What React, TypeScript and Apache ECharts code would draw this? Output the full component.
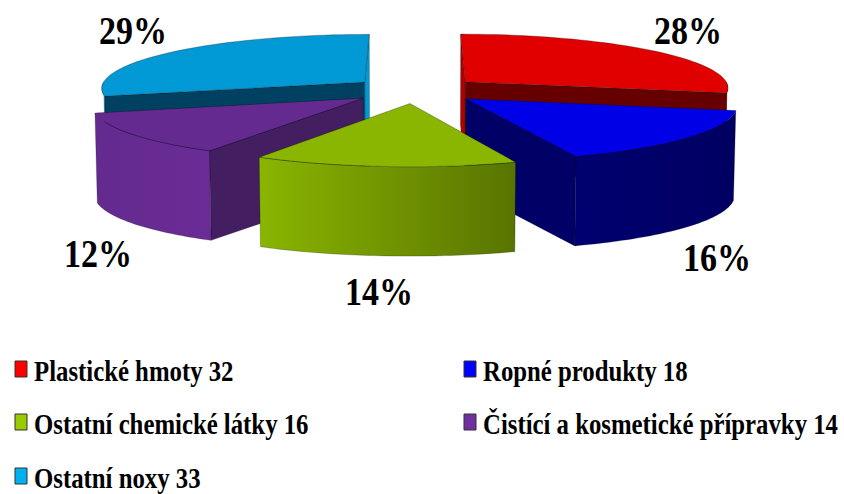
import React, { useEffect, useRef } from "react";
import * as echarts from "echarts";

const names = ["Plastické hmoty", "Ropné produkty", "Ostatní chemické látky", "Čistící a kosmetické přípravky", "Ostatní noxy"];
const values = [32, 18, 16, 14, 33];

const topColors = ["#E10000", "#0000E6", "#8AB500", "#642A8F", "#0099D6"];
const wallColors = ["#660000", "#000066", "#5F7D00", "#431E60", "#004060"];
const outerFrom = ["#B00000", "#000070", "#8AB500", "#642A8F", "#0099D6"];
const outerTo = ["#B00000", "#000062", "#587400", "#6A2C96", "#0099D6"];
const legendColors = ["#FF0000", "#0000FF", "#99CC00", "#7030A0", "#00B0F0"];

const legendX = [15, 464, 15, 464, 15];
const legendY = [369, 369, 422, 422, 476];
const labelX = [688, 717, 379, 98, 133];
const labelY = [31, 258, 292, 254, 31];

const CX = 415.5, CY = 90, RX = 265, RY = 54, PERSP = 0.1, SHRINK = 0.007, DEPTH = 90, EXPLODE = 0.245;
const total = values.reduce((a, b) => a + b, 0);

function project(x: number, y: number, z: number): [number, number] {
  const w = 1 - PERSP * y + SHRINK * z;
  return [CX + (RX * x) / w, CY + (RY * y) / w + DEPTH * z];
}

function renderSlice(params: any) {
  const i = params.dataIndex;
  const before = values.slice(0, i).reduce((a, b) => a + b, 0);
  const a0 = (before / total) * Math.PI * 2;
  const a1 = ((before + values[i]) / total) * Math.PI * 2;
  const mid = (a0 + a1) / 2;
  const ox = EXPLODE * Math.sin(mid);
  const oy = -EXPLODE * Math.cos(mid);
  const rim = (a: number, z: number) => project(ox + Math.sin(a), oy - Math.cos(a), z);
  const apex = (z: number) => project(ox, oy, z);
  const arc = (from: number, to: number, z: number) => {
    const pts: [number, number][] = [];
    const n = 48;
    for (let k = 0; k <= n; k++) pts.push(rim(from + ((to - from) * k) / n, z));
    return pts;
  };
  const order = [...values.keys()]
    .map((j) => {
      const b = values.slice(0, j).reduce((p, q) => p + q, 0);
      return { j, d: -Math.cos(((b + values[j] / 2) / total) * Math.PI * 2) };
    })
    .sort((p, q) => p.d - q.d)
    .findIndex((e) => e.j === i);
  const base = order * 10;
  const edge = "rgba(0,0,0,0.45)";
  const children: any[] = [];
  const wall = (a: number, k: number) => {
    const edgeOn = Math.abs(Math.sin(a)) < 1e-6;
    children.push({
      type: "polygon",
      z2: base + k,
      shape: { points: [apex(0), rim(a, 0), rim(a, 1), apex(1)] },
      style: { fill: edgeOn ? outerFrom[i] : wallColors[i], stroke: edge, lineWidth: 0.5 },
    });
  };
  if (Math.sin(a1) >= -1e-6) wall(a1, 1);
  if (-Math.sin(a0) >= -1e-6) wall(a0, 2);
  const s = Math.max(a0, Math.PI / 2);
  const e = Math.min(a1, (Math.PI * 3) / 2);
  if (e > s) {
    children.push({
      type: "polygon",
      z2: base + 3,
      shape: { points: [...arc(s, e, 0), ...arc(e, s, 1)] },
      style: {
        fill: new echarts.graphic.LinearGradient(0, 0, 1, 0, [
          { offset: 0, color: outerFrom[i] },
          { offset: 1, color: outerTo[i] },
        ]),
        stroke: edge,
        lineWidth: 0.5,
      },
    });
  }
  children.push({
    type: "polygon",
    z2: base + 4,
    shape: { points: [apex(0), ...arc(a0, a1, 0)] },
    style: { fill: topColors[i], stroke: edge, lineWidth: 0.6 },
  });
  return { type: "group", children };
}

const serif = '"Liberation Serif", "Times New Roman", serif';

export default function App() {
  const ref = useRef<HTMLDivElement>(null);
  useEffect(() => {
    document.body.style.margin = "0";
    const chart = echarts.init(ref.current!, undefined, { renderer: "svg" });
    const graphic: any[] = [];
    values.forEach((v, i) => {
      graphic.push({
        type: "text",
        x: labelX[i],
        y: labelY[i],
        scaleX: 0.85,
        style: {
          text: `${Math.round((v / total) * 100)}%`,
          font: `bold 40px ${serif}`,
          fill: "#000",
          textAlign: "center",
          textVerticalAlign: "middle",
        },
      });
      graphic.push({
        type: "rect",
        shape: { x: legendX[i], y: legendY[i] - 8, width: 12, height: 16 },
        style: { fill: legendColors[i], stroke: "#333", lineWidth: 1 },
      });
      graphic.push({
        type: "text",
        x: legendX[i] + 19,
        y: legendY[i] + 2,
        scaleX: 0.826,
        style: {
          text: `${names[i]} ${v}`,
          font: `bold 30px ${serif}`,
          fill: "#000",
          textAlign: "left",
          textVerticalAlign: "middle",
        },
      });
    });
    chart.setOption({
      animation: false,
      backgroundColor: "#fff",
      graphic,
      series: [
        {
          type: "custom",
          coordinateSystem: "none",
          renderItem: renderSlice,
          data: values,
          silent: true,
        },
      ],
    });
    return () => chart.dispose();
  }, []);
  return <div ref={ref} style={{ position: "absolute", left: 0, top: 0, width: 844, height: 494 }} />;
}
